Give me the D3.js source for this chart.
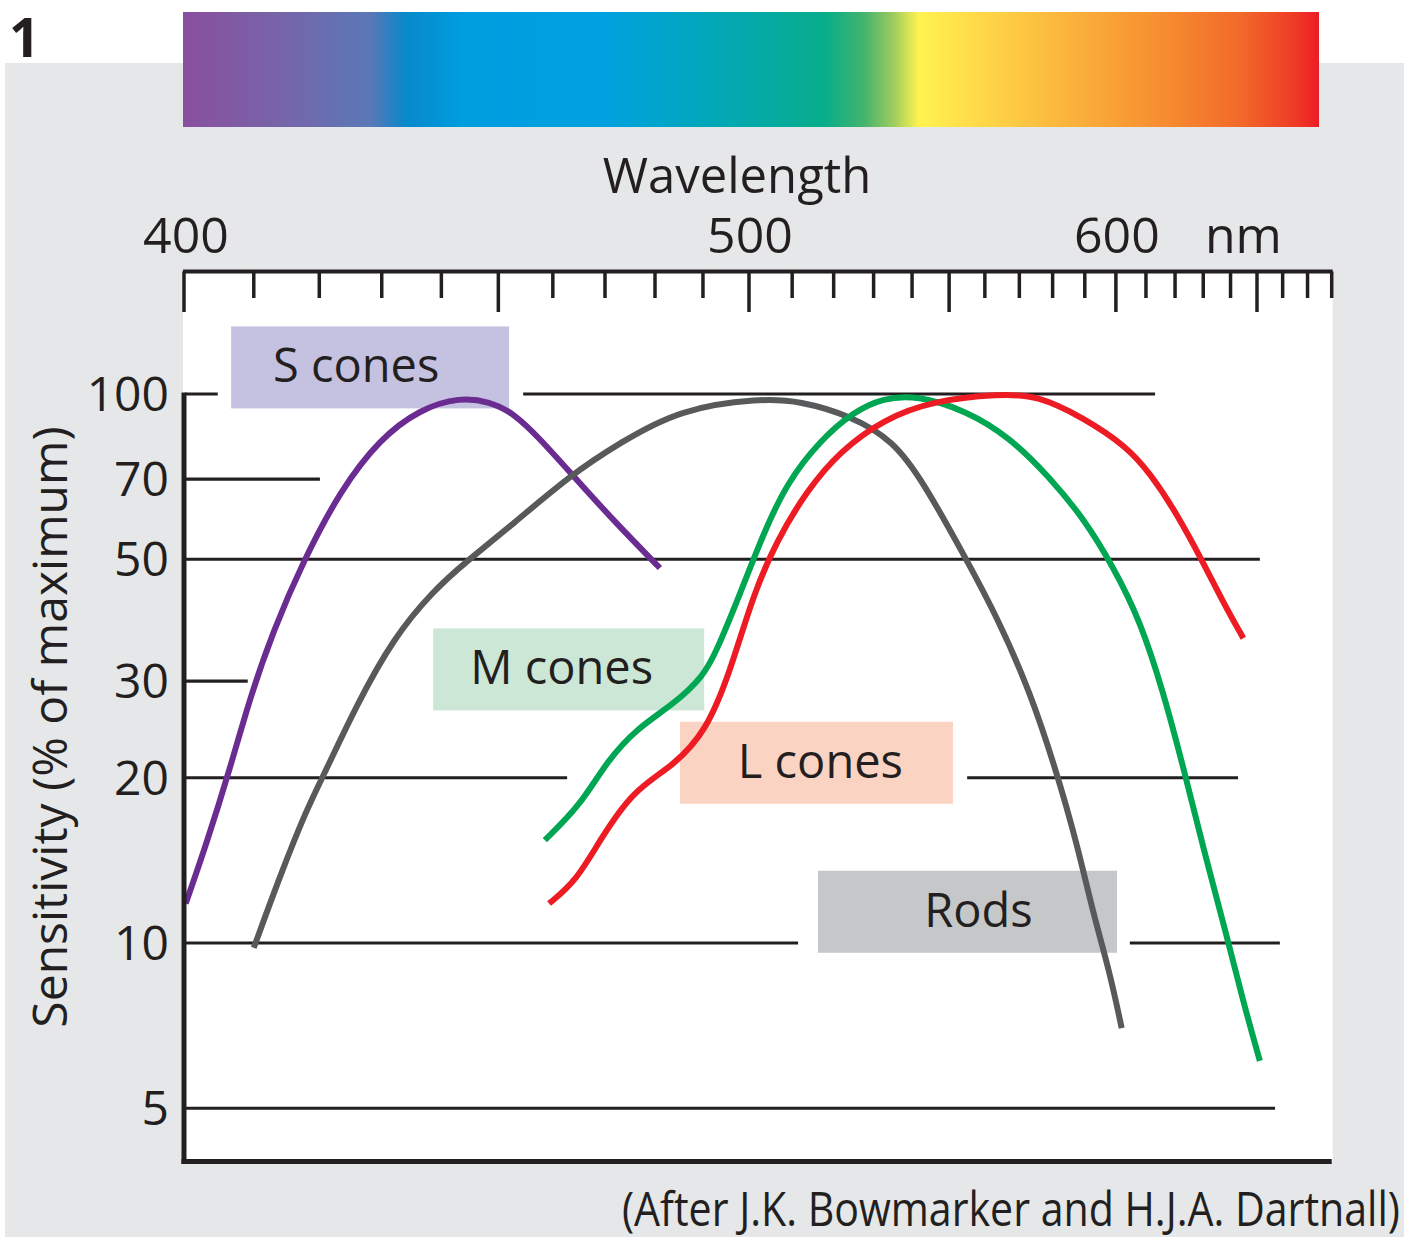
<!DOCTYPE html>
<html>
<head>
<meta charset="utf-8">
<script src="https://cdn.jsdelivr.net/npm/d3@7"></script>
<style>
  body { margin: 0; background: #fff; }
  svg { display: block; }
  text { font-family: "Open Sans", "DejaVu Sans", sans-serif; fill: #231f20; }
</style>
</head>
<body>
<div id="chart"></div>
<script>
// values: wavelength (nm) and sensitivity (% of maximum)
const sConeNm  = [400.1, 403.1, 406.5, 409.4, 412.9, 417.5, 423.3, 429.7, 436.4, 443.2, 448.5, 452.7, 457.6, 463.2, 471.6, 481.0];
const sConeVal = [11.8, 15.2, 20.8, 27.9, 37.0, 49.6, 66.7, 82.9, 93.9, 98.7, 96.8, 92.4, 82.9, 72.1, 58.9, 48.2];

const rodNm  = [410.0, 413.9, 418.0, 421.2, 425.9, 431.9, 438.6, 444.4, 452.7, 463.2, 473.0, 485.2, 502.5, 511.9, 524.0, 535.1, 543.0, 553.9, 563.4, 573.2, 581.2, 587.5, 592.7, 598.1, 601.9];
const rodVal = [9.8, 13.2, 17.5, 20.8, 27.1, 35.9, 43.8, 49.6, 58.0, 71.0, 81.6, 93.9, 98.2, 97.1, 91.4, 82.3, 69.1, 51.2, 39.4, 28.7, 20.5, 15.2, 11.3, 8.8, 7.0];

const mConeNm  = [458.5, 465.2, 470.3, 476.3, 483.8, 490.1, 492.9, 498.0, 503.3, 508.7, 516.7, 524.9, 532.5, 541.2, 554.9, 567.3, 579.2, 589.5, 599.2, 608.0, 615.9, 622.9, 630.0, 638.6, 644.8, 651.1];
const mConeVal = [15.4, 17.8, 21.4, 24.6, 27.2, 30.6, 34.0, 43.2, 55.7, 68.8, 82.3, 92.8, 98.3, 99.5, 93.2, 83.3, 70.4, 59.5, 48.4, 38.7, 28.7, 20.9, 14.9, 10.3, 7.8, 6.1];

const lConeNm  = [459.3, 464.5, 469.0, 475.6, 483.8, 490.8, 495.8, 501.0, 506.4, 513.5, 521.6, 532.5, 545.7, 564.3, 575.2, 589.5, 603.6, 611.4, 620.6, 630.0, 637.3, 644.8];
const lConeVal = [11.8, 13.0, 15.4, 19.0, 21.0, 24.4, 31.1, 43.2, 54.1, 66.7, 78.7, 89.9, 97.3, 100, 99.5, 90.6, 80.2, 71.7, 60.6, 49.3, 41.7, 35.9];

// axis ticks
const xTickLabels = [400, 500, 600];
const yTicks = [5, 10, 20, 30, 50, 70, 100];

// horizontal reference lines: level and the span (nm) they run over
const gridValues = [100, 100, 70, 50, 30, 20, 20, 10, 10, 5];
const gridFromNm = [400, 454.5, 400, 400, 400, 400, 555.0, 400, 604.6, 400];
const gridToNm   = [404.7, 613.1, 420.1, 651.1, 409.1, 462.7, 642.8, 511.4, 658.9, 657.0];

// label boxes: name and where they sit (nm, %)
const labelNames = ["S cones", "M cones", "L cones", "Rods"];
const labelNm    = [428.1, 463.0, 515.8, 555.1];
const labelVal   = [111.8, 31.5, 21.3, 11.4];

const width = 1404, height = 1237;
const ink = "#231f20";

const svg = d3.select("#chart").append("svg")
    .attr("width", width)
    .attr("height", height);

// wavelength axis runs in wavenumber (1/λ), as drawn in the original
const xr = d3.scaleLinear().domain([1 / 400, 1 / 500, 1 / 650]).range([185, 749, 1257]);
const x = nm => xr(1 / nm);
const y = d3.scaleLog().domain([10, 100]).range([943, 394]);

const left = x(400), right = x(680);
const axisTop = 271.5, bottom = y(4);

// grey panel
svg.append("rect")
    .attr("x", 5).attr("y", 63)
    .attr("width", width - 5).attr("height", height - 63)
    .attr("fill", "#e6e7e8");

// spectrum bar
const grad = svg.append("defs").append("linearGradient")
    .attr("id", "spectrum");
const stops = [
    [0, "#8a4f9e"], [0.094, "#7566aa"], [0.165, "#5a78b7"], [0.196, "#0889ca"],
    [0.245, "#009ddf"], [0.367, "#00a1e1"], [0.473, "#03a8b6"], [0.565, "#08ad8a"],
    [0.6, "#45b46c"], [0.625, "#9ccb5e"], [0.648, "#fff350"], [0.70, "#ffd948"],
    [0.78, "#fbb33c"], [0.87, "#f6892f"], [0.93, "#f26a2a"], [0.98, "#ee3a26"], [1, "#ec1c24"]
];
grad.selectAll("stop").data(stops).enter().append("stop")
    .attr("offset", d => d[0])
    .attr("stop-color", d => d[1]);
svg.append("rect")
    .attr("x", 183).attr("y", 12)
    .attr("width", 1136).attr("height", 115)
    .attr("fill", "url(#spectrum)");

svg.append("text")
    .attr("x", 9).attr("y", 57)
    .attr("font-size", 54)
    .attr("font-weight", 700)
    .text("1");

// plot area
svg.append("rect")
    .attr("x", left - 2).attr("y", axisTop)
    .attr("width", right - left + 3).attr("height", bottom - axisTop)
    .attr("fill", "#fff");

// grid lines
svg.append("g").selectAll("line")
    .data(gridValues)
    .enter()
    .append("line")
    .attr("x1", (d, i) => x(gridFromNm[i]))
    .attr("x2", (d, i) => x(gridToNm[i]))
    .attr("y1", d => y(d))
    .attr("y2", d => y(d))
    .attr("stroke", ink)
    .attr("stroke-width", 3.2);

// label boxes
const boxW = [278, 271, 273, 299];
const boxDx = [-14, -7, 4, 11];
const boxFill = ["#c5c2e1", "#cce7d6", "#fbd3c2", "#c6c7c9"];
const labels = svg.append("g").selectAll("g")
    .data(labelNames)
    .enter()
    .append("g")
    .attr("transform", (d, i) => "translate(" + x(labelNm[i]) + "," + y(labelVal[i]) + ")");
labels.append("rect")
    .attr("x", (d, i) => -boxW[i] / 2)
    .attr("y", -41)
    .attr("width", (d, i) => boxW[i])
    .attr("height", 82)
    .attr("fill", (d, i) => boxFill[i]);
labels.append("text")
    .attr("x", (d, i) => boxDx[i])
    .attr("y", 15)
    .attr("text-anchor", "middle")
    .attr("font-size", 47)
    .text(d => d);

// curves
const line = d3.line()
    .x(d => x(d[0]))
    .y(d => y(d[1]))
    .curve(d3.curveBasis);
const series = [
    { nm: sConeNm, val: sConeVal, color: "#6b2c91" },
    { nm: rodNm, val: rodVal, color: "#58595b" },
    { nm: mConeNm, val: mConeVal, color: "#00a651" },
    { nm: lConeNm, val: lConeVal, color: "#ed1c24" }
];
svg.append("g").selectAll("path")
    .data(series)
    .enter()
    .append("path")
    .attr("d", s => line(s.nm.map((n, i) => [n, s.val[i]])))
    .attr("fill", "none")
    .attr("stroke", s => s.color)
    .attr("stroke-width", 6);

// axes frame
svg.append("line")
    .attr("x1", left - 2).attr("x2", right + 1)
    .attr("y1", axisTop).attr("y2", axisTop)
    .attr("stroke", ink).attr("stroke-width", 4);
svg.append("line")
    .attr("x1", left - 1).attr("x2", left - 1)
    .attr("y1", y(100) - 1.5).attr("y2", bottom + 2.5)
    .attr("stroke", ink).attr("stroke-width", 5);
svg.append("line")
    .attr("x1", left - 3.5).attr("x2", right)
    .attr("y1", bottom).attr("y2", bottom)
    .attr("stroke", ink).attr("stroke-width", 5);

// wavelength ticks every 10 nm, long ones every 50 nm
svg.append("g").selectAll("line")
    .data(d3.range(400, 681, 10))
    .enter()
    .append("line")
    .attr("x1", d => x(d) - (d === 400 ? 1 : 0))
    .attr("x2", d => x(d) - (d === 400 ? 1 : 0))
    .attr("y1", axisTop)
    .attr("y2", d => d % 50 === 0 ? 312 : 298)
    .attr("stroke", ink)
    .attr("stroke-width", 3.5);

svg.append("g").selectAll("text")
    .data(xTickLabels)
    .enter()
    .append("text")
    .attr("x", d => x(d) + 1)
    .attr("y", 253)
    .attr("text-anchor", "middle")
    .attr("font-size", 50)
    .text(d => d);
svg.append("text")
    .attr("x", x(600) + 89).attr("y", 253)
    .attr("font-size", 50)
    .text("nm");
svg.append("text")
    .attr("x", 737).attr("y", 193)
    .attr("text-anchor", "middle")
    .attr("font-size", 49)
    .text("Wavelength");

// sensitivity tick labels
svg.append("g").selectAll("text")
    .data(yTicks)
    .enter()
    .append("text")
    .attr("x", 169)
    .attr("y", d => y(d) + 17)
    .attr("text-anchor", "end")
    .attr("font-size", 48)
    .text(d => d);

svg.append("text")
    .attr("transform", "translate(67,727) rotate(-90)")
    .attr("text-anchor", "middle")
    .attr("font-size", 48)
    .text("Sensitivity (% of maximum)");

svg.append("text")
    .attr("x", 1400).attr("y", 1226)
    .attr("text-anchor", "end")
    .attr("font-size", 47)
    .attr("textLength", 778)
    .attr("lengthAdjust", "spacingAndGlyphs")
    .text("(After J.K. Bowmarker and H.J.A. Dartnall)");
</script>
</body>
</html>
